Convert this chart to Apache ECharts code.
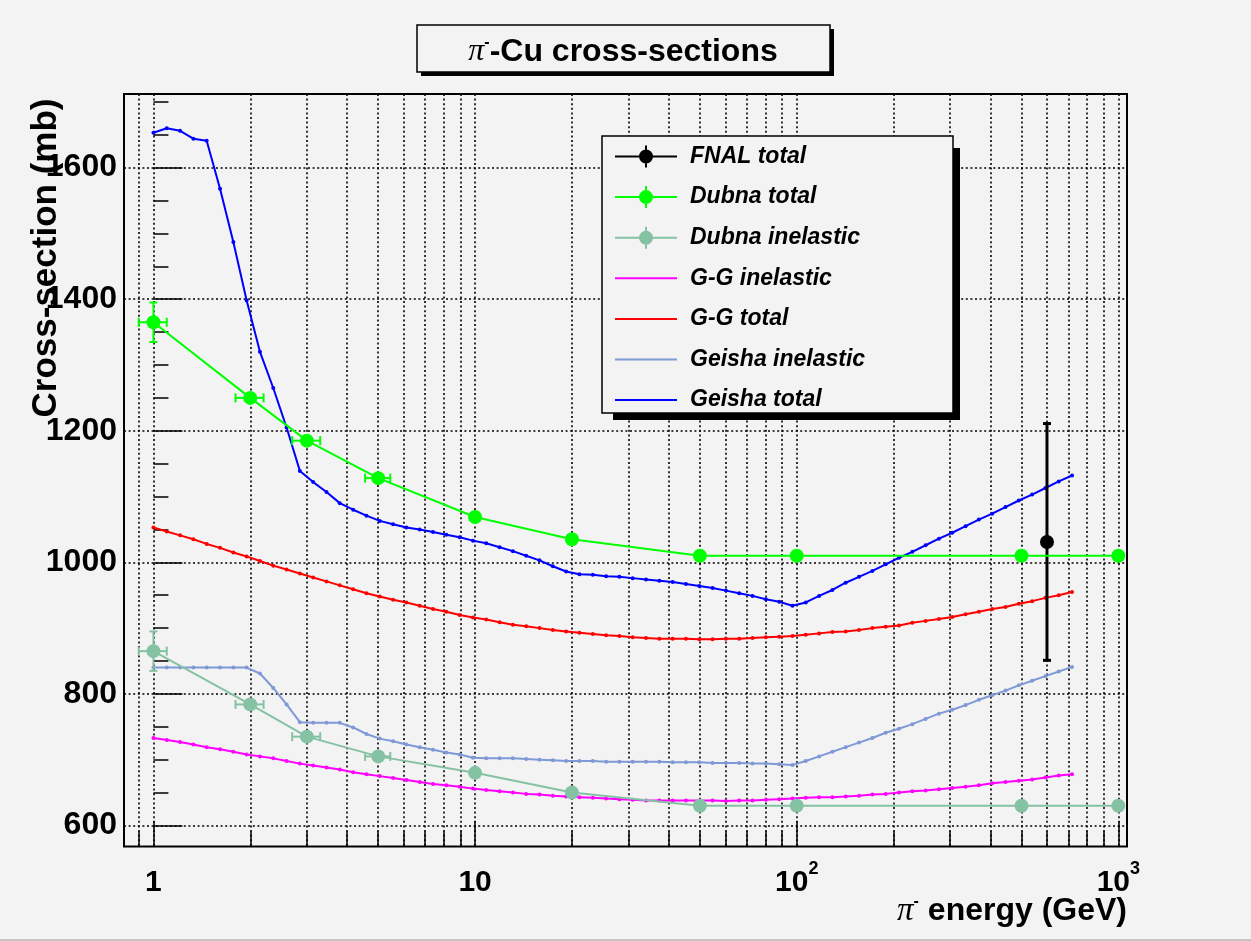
<!DOCTYPE html>
<html>
<head>
<meta charset="utf-8">
<title>π-Cu cross-sections</title>
<script src="https://cdn.jsdelivr.net/npm/echarts@6/dist/echarts.min.js"></script>
<style>
  html, body { margin: 0; padding: 0; background: #f3f3f3; }
  #main { width: 1251px; height: 941px; }
</style>
</head>
<body>
<div id="main"></div>
<script>
var FONT = "'Liberation Sans', Arial, Helvetica, sans-serif";
var BG = '#f3f3f3';

// energy grid of the model curves (GeV)
var modelE = [1, 1.1, 1.21, 1.331, 1.464, 1.611, 1.772, 1.949, 2.144, 2.358,
  2.594, 2.853, 3.138, 3.452, 3.797, 4.177, 4.595, 5.054, 5.56, 6.116,
  6.727, 7.4, 8.14, 8.954, 9.85, 10.83, 11.92, 13.11, 14.42, 15.86,
  17.45, 19.19, 21.11, 23.23, 25.55, 28.1, 30.91, 34.0, 37.4, 41.14,
  45.26, 49.79, 54.76, 60.24, 66.26, 72.89, 80.18, 88.2, 97.02, 106.7,
  117.4, 129.1, 142.0, 156.2, 171.9, 189.1, 208.0, 228.8, 251.6, 276.8,
  304.5, 334.9, 368.4, 405.3, 445.8, 490.4, 539.4, 593.3, 652.7, 717.9];

// cross-sections (mb)
var ggInel = [733, 730, 727, 723, 719, 716, 712, 708, 705, 702,
  698, 694, 691, 688, 685, 681, 678, 675, 672, 669,
  666, 663, 661, 659, 656, 654, 652, 650, 648, 647,
  645, 644, 643, 642, 641, 640, 639, 638, 638, 638,
  638, 638, 638, 637, 638, 638, 639, 640, 641, 642,
  643, 643, 644, 645, 647, 648, 650, 652, 653, 655,
  657, 659, 661, 664, 666, 668, 670, 673, 676, 678];

var ggTot = [1053, 1047, 1041, 1035, 1028, 1022, 1015, 1009, 1002, 995,
  989, 983, 977, 971, 965, 959, 953, 948, 943, 939,
  934, 929, 925, 920, 916, 913, 909, 905, 903, 900,
  897, 895, 893, 891, 889, 888, 886, 885, 884, 884,
  884, 883, 883, 884, 884, 885, 886, 887, 888, 890,
  892, 894, 895, 897, 900, 902, 904, 908, 911, 914,
  917, 921, 925, 929, 932, 937, 941, 946, 950, 955];

var geishaInel = [840, 840, 840, 840, 840, 840, 840, 840, 831, 809,
  784, 757, 756, 756, 756, 749, 739, 732, 728, 723,
  719, 715, 711, 708, 703, 702, 702, 702, 701, 700,
  699, 698, 698, 698, 697, 697, 697, 697, 697, 696,
  696, 696, 695, 695, 695, 694, 694, 693, 692, 698,
  705, 712, 719, 726, 733, 741, 747, 754, 762, 770,
  776, 783, 791, 798, 805, 813, 820, 827, 834, 841];

var geishaTot = [1653, 1660, 1656, 1644, 1641, 1568, 1487, 1398, 1320, 1265,
  1205, 1139, 1122, 1107, 1090, 1080, 1071, 1063, 1058, 1053,
  1050, 1046, 1042, 1038, 1033, 1029, 1023, 1017, 1010, 1003,
  994, 986, 982, 981, 979, 978, 976, 974, 972, 970,
  967, 964, 961, 957, 953, 949, 944, 940, 934, 939,
  949, 958, 969, 978, 987, 997, 1007, 1016, 1026, 1036,
  1045, 1055, 1065, 1074, 1084, 1094, 1103, 1113, 1123, 1132];

// measurements
var dubnaE = [1, 2, 3, 5, 10, 20, 50, 100, 500, 1000];
var dubnaEErr = [0.1, 0.2, 0.3, 0.45, 0, 0, 0, 0, 0, 0];
var dubnaTot = [1365, 1250, 1185, 1128, 1069, 1035, 1010, 1010, 1010, 1010];
var dubnaTotErr = [30, 0, 0, 0, 0, 0, 0, 0, 0, 0];
var dubnaInel = [865, 784, 735, 705, 680, 650, 630, 630, 630, 630];
var dubnaInelErr = [30, 0, 0, 0, 0, 0, 0, 0, 0, 0];

var fnalE = [600];
var fnalEErr = [0];
var fnalTot = [1031];
var fnalErr = [180];

// axes
var xTicks = [0.9, 1, 2, 3, 4, 5, 6, 7, 8, 9, 10, 20, 30, 40, 50, 60, 70, 80, 90,
  100, 200, 300, 400, 500, 600, 700, 800, 900, 1000];
var xLabels = [1, 10, 100, 1000];
var yMajor = [600, 800, 1000, 1200, 1400, 1600];
var yMinor = [600, 650, 700, 750, 800, 850, 900, 950, 1000, 1050, 1100, 1150,
  1200, 1250, 1300, 1350, 1400, 1450, 1500, 1550, 1600, 1650, 1700];
var xRange = [0.81, 1064];
var yRange = [568, 1712];

function lg(v) { return Math.log10(v); }
function pairs(es, ys) {
  return es.map(function (e, i) { return [lg(e), ys[i]]; });
}

function curve(name, ys, color) {
  return {
    name: name, type: 'line', data: pairs(modelE, ys),
    symbol: 'circle', symbolSize: 4, z: 3, silent: true,
    lineStyle: { color: color, width: 2 },
    itemStyle: { color: color, borderWidth: 0 }
  };
}

function points(name, es, ys, color) {
  return {
    name: name, type: 'line', data: pairs(es, ys),
    symbol: 'circle', symbolSize: 14, z: 5, silent: true,
    lineStyle: { color: color, width: 2 },
    itemStyle: { color: color, borderWidth: 0 }
  };
}

// error bars with end caps
function errors(name, es, ys, dEs, dys, color, lw) {
  var data = [];
  es.forEach(function (e, i) {
    if (dEs[i] > 0 || dys[i] > 0) {
      data.push([lg(e), ys[i], lg(e - dEs[i]), lg(e + dEs[i]), ys[i] - dys[i], ys[i] + dys[i]]);
    }
  });
  return {
    name: name, type: 'custom', data: data, z: 4, silent: true,
    itemStyle: { color: color },
    encode: { x: 0, y: 1 },
    renderItem: function (params, api) {
      var c = api.coord([api.value(0), api.value(1)]);
      var l = api.coord([api.value(2), api.value(1)]);
      var r = api.coord([api.value(3), api.value(1)]);
      var lo = api.coord([api.value(0), api.value(4)]);
      var hi = api.coord([api.value(0), api.value(5)]);
      var st = { stroke: color, lineWidth: lw };
      var kids = [];
      function seg(x1, y1, x2, y2) {
        kids.push({ type: 'line', shape: { x1: x1, y1: y1, x2: x2, y2: y2 }, style: st });
      }
      if (r[0] - l[0] > 1) {
        seg(l[0], c[1], r[0], c[1]);
        seg(l[0], c[1] - 4.5, l[0], c[1] + 4.5);
        seg(r[0], c[1] - 4.5, r[0], c[1] + 4.5);
      }
      if (lo[1] - hi[1] > 1) {
        seg(c[0], lo[1], c[0], hi[1]);
        seg(c[0] - 4, lo[1], c[0] + 4, lo[1]);
        seg(c[0] - 4, hi[1], c[0] + 4, hi[1]);
      }
      return { type: 'group', children: kids };
    }
  };
}

var lineIcon = 'path://M0,10H62V12H0Z';
var errIcon = 'path://M0,10H62V12H0Z M30,0H32V22H30Z M31,4A7,7 0 1 1 31,18A7,7 0 1 1 31,4Z';

var C = {
  fnal: '#000000', dubnaTot: '#00ff00', dubnaInel: '#85c2a3',
  ggInel: '#ff00ff', ggTot: '#ff0000', geishaInel: '#7f99d6', geishaTot: '#0000ff'
};

var gridLine = { color: '#000', width: 1.6, type: [2, 2.6] };
var piStyle = { fontFamily: "'Liberation Serif', 'DejaVu Serif', serif", fontStyle: 'italic', fontWeight: 'normal' };

var myChart = echarts.init(document.getElementById('main'), null, { renderer: 'canvas' });

var option = {
  backgroundColor: BG,
  animation: false,
  grid: {
    left: 124, right: 124, top: 94, bottom: 94.5,
    show: true, borderColor: '#000', borderWidth: 2, backgroundColor: 'transparent',
    containLabel: false, outerBoundsMode: 'none'
  },
  xAxis: [
    {
      type: 'value', position: 'bottom', min: lg(xRange[0]), max: lg(xRange[1]),
      axisLine: { show: false },
      axisTick: { show: true, inside: true, length: 15, customValues: xTicks.map(lg),
        lineStyle: { color: '#000', width: 1.5 } },
      splitLine: { show: true, lineStyle: gridLine },
      axisLabel: {
        customValues: xLabels.map(lg), margin: 14,
        fontFamily: FONT, fontWeight: 'bold', fontSize: 30, lineHeight: 44, color: '#000',
        formatter: function (v) {
          var p = Math.round(v);
          return p < 2 ? String(Math.pow(10, p)) : '10{s|' + p + '}';
        },
        rich: { s: { fontFamily: FONT, fontWeight: 'bold', fontSize: 18, lineHeight: 18, verticalAlign: 'top', color: '#000' } }
      }
    },
    {
      type: 'value', position: 'bottom', min: lg(xRange[0]), max: lg(xRange[1]),
      axisLine: { show: false },
      axisTick: { show: true, inside: true, length: 25, customValues: xLabels.map(lg),
        lineStyle: { color: '#000', width: 1.5 } },
      splitLine: { show: false },
      axisLabel: { show: false }
    }
  ],
  yAxis: [
    {
      type: 'value', position: 'left', min: yRange[0], max: yRange[1],
      axisLine: { show: false },
      axisTick: { show: true, inside: true, length: 29, customValues: yMajor,
        lineStyle: { color: '#000', width: 1.5 } },
      splitLine: { show: true, lineStyle: gridLine },
      axisLabel: {
        customValues: yMajor, margin: 7, fontFamily: FONT, fontWeight: 'bold', fontSize: 32, color: '#000',
        formatter: function (v) { return String(v); }
      }
    },
    {
      type: 'value', position: 'left', min: yRange[0], max: yRange[1],
      axisLine: { show: false },
      axisTick: { show: true, inside: true, length: 15, customValues: yMinor,
        lineStyle: { color: '#000', width: 1.5 } },
      splitLine: { show: false },
      axisLabel: { show: false }
    }
  ],
  legend: {
    orient: 'vertical', left: 615, top: 145, padding: 0, z: 60,
    itemWidth: 62, itemHeight: 22, itemGap: 17.6, symbolKeepAspect: true, selectedMode: false,
    itemStyle: { borderWidth: 0 },
    textStyle: { fontFamily: FONT, fontWeight: 'bold', fontStyle: 'italic', fontSize: 23, lineHeight: 22,
      color: '#000', padding: [0, 0, 0, 8] },
    data: [
      { name: 'FNAL total', icon: errIcon },
      { name: 'Dubna total', icon: errIcon },
      { name: 'Dubna inelastic', icon: errIcon },
      { name: 'G-G inelastic', icon: lineIcon },
      { name: 'G-G total', icon: lineIcon },
      { name: 'Geisha inelastic', icon: lineIcon },
      { name: 'Geisha total', icon: lineIcon }
    ]
  },
  graphic: {
    elements: [
      // title box
      { type: 'rect', z: 50, shape: { x: 830, y: 29, width: 4, height: 47 }, style: { fill: '#000' } },
      { type: 'rect', z: 50, shape: { x: 421, y: 72, width: 413, height: 4 }, style: { fill: '#000' } },
      { type: 'rect', z: 51, shape: { x: 417, y: 25, width: 413, height: 47 },
        style: { fill: BG, stroke: '#000', lineWidth: 1.5 } },
      { type: 'text', z: 52, x: 623, y: 52,
        style: {
          text: '{pi|π}{sup|-}-Cu cross-sections',
          fontFamily: FONT, fontWeight: 'bold', fontSize: 32, fill: '#000',
          align: 'center', verticalAlign: 'middle', textAlign: 'center', textVerticalAlign: 'middle',
          rich: {
            pi: Object.assign({ fontSize: 32, lineHeight: 34 }, piStyle),
            sup: { fontFamily: FONT, fontWeight: 'bold', fontSize: 16, lineHeight: 16, verticalAlign: 'top' }
          }
        } },
      // legend box
      { type: 'rect', z: 50, shape: { x: 953, y: 148, width: 7, height: 272 }, style: { fill: '#000' } },
      { type: 'rect', z: 50, shape: { x: 613, y: 413, width: 347, height: 7 }, style: { fill: '#000' } },
      { type: 'rect', z: 51, shape: { x: 602, y: 136, width: 351, height: 277 },
        style: { fill: BG, stroke: '#000', lineWidth: 1.5 } },
      // axis titles
      { type: 'text', z: 52, x: 46, y: 258, rotation: Math.PI / 2,
        style: {
          text: 'Cross-section (mb)', fontFamily: FONT, fontWeight: 'bold', fontSize: 35, fill: '#000',
          align: 'center', verticalAlign: 'middle', textAlign: 'center', textVerticalAlign: 'middle'
        } },
      { type: 'text', z: 52, x: 1127, y: 911,
        style: {
          text: '{pi|π}{sup|-} energy (GeV)',
          fontFamily: FONT, fontWeight: 'bold', fontSize: 32, fill: '#000',
          align: 'right', verticalAlign: 'middle', textAlign: 'right', textVerticalAlign: 'middle',
          rich: {
            pi: Object.assign({ fontSize: 33, lineHeight: 34 }, piStyle),
            sup: { fontFamily: FONT, fontWeight: 'bold', fontSize: 16, lineHeight: 16, verticalAlign: 'top' }
          }
        } },
      // canvas edge
      { type: 'rect', z: 1, shape: { x: 0, y: 939, width: 1251, height: 2 }, style: { fill: '#c4c4c4' } }
    ]
  },
  series: [
    errors('Dubna total errors', dubnaE, dubnaTot, dubnaEErr, dubnaTotErr, C.dubnaTot, 2),
    errors('Dubna inelastic errors', dubnaE, dubnaInel, dubnaEErr, dubnaInelErr, C.dubnaInel, 2),
    errors('FNAL errors', fnalE, fnalTot, fnalEErr, fnalErr, C.fnal, 3),
    curve('G-G inelastic', ggInel, C.ggInel),
    curve('G-G total', ggTot, C.ggTot),
    curve('Geisha inelastic', geishaInel, C.geishaInel),
    curve('Geisha total', geishaTot, C.geishaTot),
    points('Dubna inelastic', dubnaE, dubnaInel, C.dubnaInel),
    points('Dubna total', dubnaE, dubnaTot, C.dubnaTot),
    points('FNAL total', fnalE, fnalTot, C.fnal)
  ]
};

myChart.setOption(option);
</script>
</body>
</html>
